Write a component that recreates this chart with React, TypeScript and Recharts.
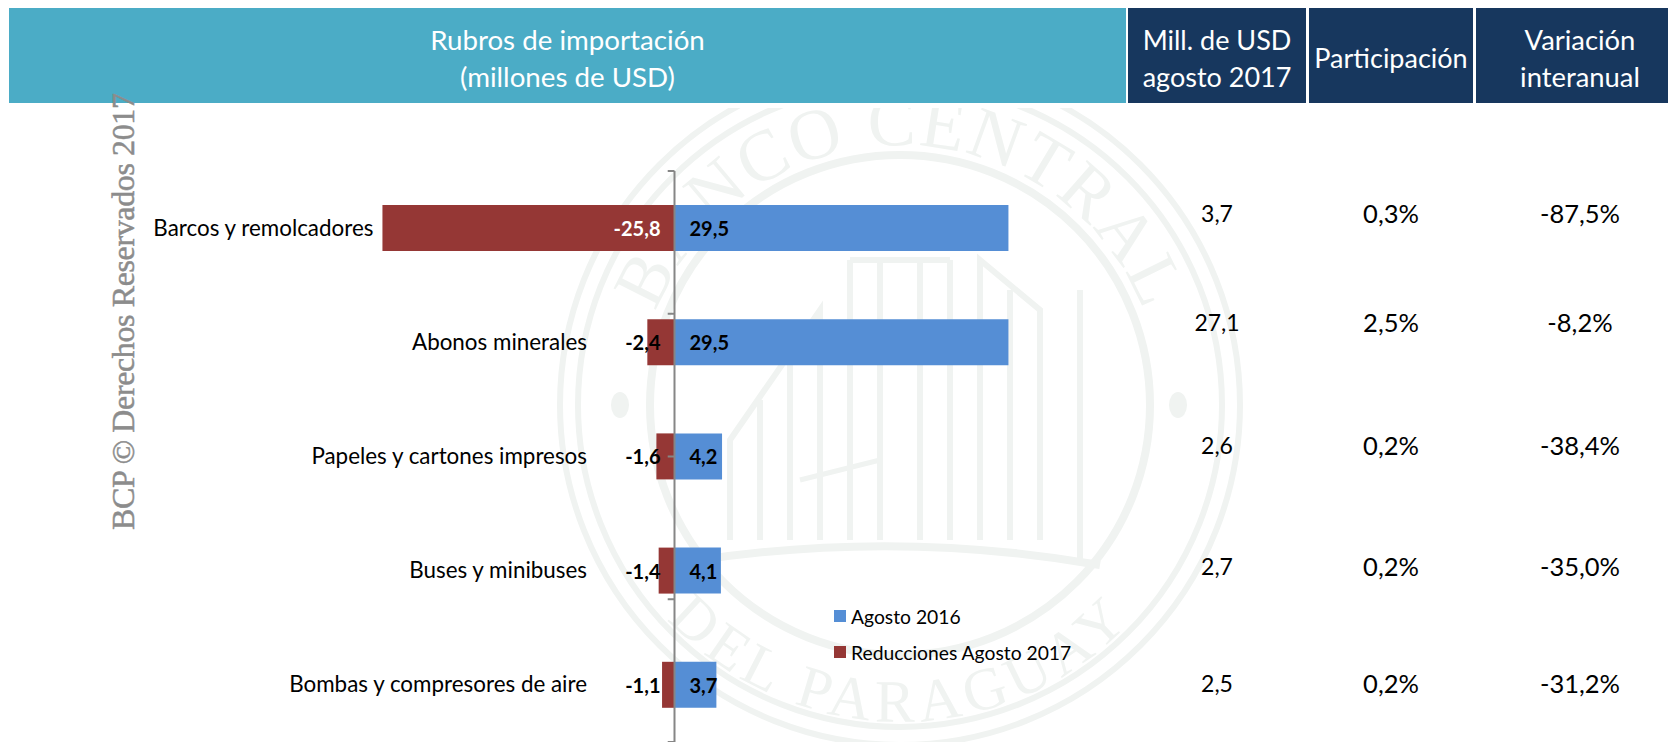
import React from "react";
import { BarChart, Bar, XAxis, YAxis, ReferenceLine, LabelList, Legend } from "recharts";

const categories = [
  "Barcos y remolcadores",
  "Abonos minerales",
  "Papeles y cartones impresos",
  "Buses y minibuses",
  "Bombas y compresores de aire",
];
const agosto2016 = [29.5, 29.5, 4.2, 4.1, 3.7];
const reducciones = [-25.8, -2.4, -1.6, -1.4, -1.1];
const millUsd = ["3,7", "27,1", "2,6", "2,7", "2,5"];
const participacion = ["0,3%", "2,5%", "0,2%", "0,2%", "0,2%"];
const variacion = ["-87,5%", "-8,2%", "-38,4%", "-35,0%", "-31,2%"];
const bandEdges = [0, 1, 2, 3, 4];

const rowCenters = [213, 322, 445, 566, 683];
const FONT = "Lato, 'Noto Sans', sans-serif";
const BLUE = "#558ED5";
const RED = "#953735";
const AXIS = "#868686";
const SEAL = "#f0f3f1";

const chartData = categories.map((name, i) => ({
  name,
  agosto: agosto2016[i],
  reduccion: reducciones[i],
}));

const fmt = (v: number) => v.toFixed(1).replace(".", ",");

const CategoryLabel = ({ x, y, width, height, value }: any) => {
  const left = Math.min(x, x + width);
  return (
    <text x={Math.min(587, left - 9)} y={y + height / 2 - 1} textAnchor="end" dominantBaseline="central" fontSize={22.4} fill="#000">
      {value}
    </text>
  );
};

const RedValue = ({ x, y, height, value }: any) => (
  <text x={x - 14} y={y + height / 2} textAnchor="end" dominantBaseline="central" fontSize={20} fontWeight={700} fill={value < -10 ? "#fff" : "#000"}>
    {fmt(value)}
  </text>
);

const BlueValue = ({ x, y, height, value }: any) => (
  <text x={x + 15} y={y + height / 2} dominantBaseline="central" fontSize={20} fontWeight={700} fill="#000">
    {fmt(value)}
  </text>
);

const LegendBox = ({ payload }: any) => (
  <div style={{ fontFamily: FONT, fontSize: 19.3, color: "#000" }}>
    {payload.map((p: any) => (
      <div key={p.value} style={{ display: "flex", alignItems: "center", height: 36 }}>
        <span style={{ width: 12, height: 12, background: p.color, marginRight: 5 }} />
        {p.value}
      </div>
    ))}
  </div>
);

const Seal = () => (
  <svg width={1668} height={742} style={{ position: "absolute", left: 0, top: 0 }}>
    <defs>
      <path id="topArc" d="M 655 500 A 262 262 0 1 1 1145 500" />
      <path id="botArc" d="M 614 540 A 316 316 0 0 0 1186 540" />
      <clipPath id="sealClip"><rect x={0} y={108} width={1668} height={634} /></clipPath>
    </defs>
    <g clipPath="url(#sealClip)" fill="none" stroke={SEAL}>
      <circle cx={900} cy={405} r={340} strokeWidth={6} />
      <circle cx={900} cy={405} r={322} strokeWidth={6} />
      <circle cx={900} cy={405} r={250} strokeWidth={8} />
      <path d="M 700 560 Q 900 530 1100 565" strokeWidth={8} />
      <path d="M 730 540 L 730 440 L 820 310 L 820 540 M 760 540 L 760 400 M 790 540 L 790 350" strokeWidth={6} />
      <path d="M 850 540 L 850 260 M 880 540 L 880 260 M 920 540 L 920 260 M 950 540 L 950 260 M 850 260 L 950 260" strokeWidth={6} />
      <path d="M 980 540 L 980 260 L 1040 310 L 1040 540 M 1010 540 L 1010 290 M 1080 560 L 1080 290" strokeWidth={6} />
      <path d="M 800 480 L 880 460 L 880 520" strokeWidth={5} />
      <text fontFamily="'Liberation Serif', serif" fontSize={72} letterSpacing={2} fill={SEAL} stroke="none">
        <textPath href="#topArc" startOffset="50%" textAnchor="middle">BANCO CENTRAL</textPath>
      </text>
      <text fontFamily="'Liberation Serif', serif" fontSize={60} letterSpacing={6} fill={SEAL} stroke="none">
        <textPath href="#botArc" startOffset="50%" textAnchor="middle">DEL PARAGUAY</textPath>
      </text>
      <ellipse cx={620} cy={405} rx={9} ry={13} fill={SEAL} stroke="none" />
      <ellipse cx={1178} cy={405} rx={9} ry={13} fill={SEAL} stroke="none" />
    </g>
  </svg>
);

const headerCell = (left: number, width: number, bg: string, lines: string[], size: number, pad = 0) => (
  <div
    key={lines[0]}
    style={{
      position: "absolute", left, top: 8, width: width - pad, paddingLeft: pad, height: 91, paddingTop: 4, background: bg, color: "#fff",
      display: "flex", flexDirection: "column", justifyContent: "center", alignItems: "center",
      fontSize: size, lineHeight: "37px", fontFamily: FONT,
    }}
  >
    {lines.map((l) => <div key={l}>{l}</div>)}
  </div>
);

const TableColumn = ({ center, values, size }: { center: number; values: string[]; size: number }) => (
  <>
    {values.map((v, i) => (
      <div
        key={v + i}
        style={{
          position: "absolute", left: center - 60, width: 120, top: rowCenters[i] - 15, height: 30,
          lineHeight: "30px", textAlign: "center", fontFamily: FONT, fontSize: size, color: "#000",
        }}
      >
        {v}
      </div>
    ))}
  </>
);

export default function App() {
  return (
    <div style={{ position: "absolute", left: 0, top: 0, width: 1668, height: 742, overflow: "hidden", background: "#fff" }}>
      <Seal />
      {headerCell(9, 1117, "#4BACC6", ["Rubros de importación", "(millones de USD)"], 27.7)}
      {headerCell(1128, 178, "#17375E", ["Mill. de USD", "agosto 2017"], 27)}
      {headerCell(1309, 164, "#17375E", ["Participación"], 27)}
      {headerCell(1476, 192, "#17375E", ["Variación", "interanual"], 27.4, 16)}

      <div style={{ position: "absolute", left: 0, top: 0, fontFamily: FONT }}>
        <BarChart
          width={1668}
          height={742}
          data={chartData}
          layout="vertical"
          stackOffset="sign"
          barSize={46}
          margin={{ top: 171, right: 314.3, bottom: 0, left: 221.7 }}
        >
          <XAxis type="number" domain={[-40, 60]} hide />
          <YAxis type="category" dataKey="name" hide />
          <YAxis yAxisId="bands" type="number" domain={[0, 5]} reversed hide />
          <Bar dataKey="agosto" name="Agosto 2016" stackId="a" fill={BLUE} isAnimationActive={false}>
            <LabelList dataKey="agosto" content={BlueValue} />
          </Bar>
          <Bar dataKey="reduccion" name="Reducciones Agosto 2017" stackId="a" fill={RED} isAnimationActive={false}>
            <LabelList dataKey="name" content={CategoryLabel} />
            <LabelList dataKey="reduccion" content={RedValue} />
          </Bar>
          <ReferenceLine x={0} stroke={AXIS} strokeWidth={2} />
          {bandEdges.map((b) => (
            <ReferenceLine key={b} yAxisId="bands" segment={[{ x: -0.6, y: b }, { x: 0, y: b }]} stroke={AXIS} strokeWidth={2} />
          ))}
          <Legend
            layout="vertical"
            align="center"
            verticalAlign="middle"
            content={LegendBox}
            wrapperStyle={{ left: 834, top: 598, width: 260, bottom: "auto", right: "auto" }}
          />
        </BarChart>
      </div>

      <TableColumn center={1217} values={millUsd} size={23} />
      <TableColumn center={1391} values={participacion} size={25.5} />
      <TableColumn center={1580} values={variacion} size={25.5} />

      <svg width={1668} height={742} style={{ position: "absolute", left: 0, top: 0, pointerEvents: "none" }}>
        <text
          transform="translate(134 530) rotate(-90)"
          textLength={437}
          lengthAdjust="spacing"
          fontFamily="'Liberation Serif', serif"
          fontSize={32}
          fill="#8c8c8c"
          stroke="#8c8c8c"
          strokeWidth={0.5}
        >
          BCP © Derechos Reservados 2017
        </text>
      </svg>
    </div>
  );
}
